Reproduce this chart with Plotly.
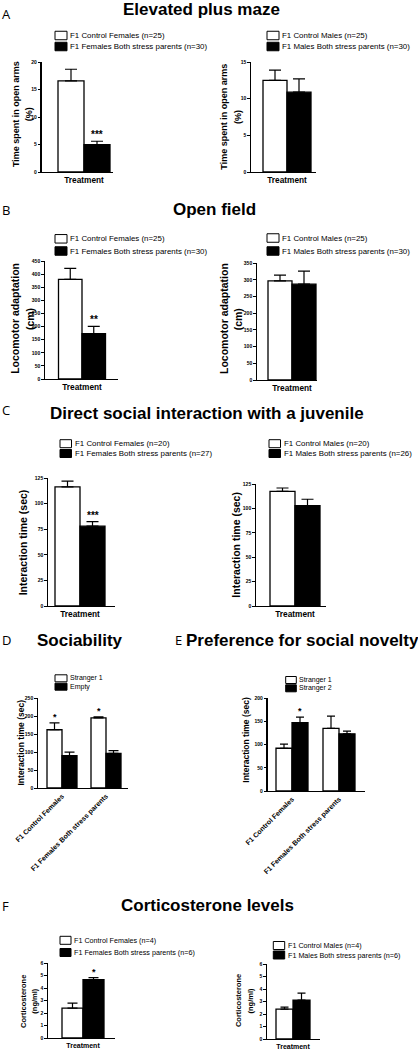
import plotly.graph_objects as go

# ---------------- data ----------------
treatment_cat = ["Treatment"]
social_cats = ["F1 Control Females", "F1 Females Both stress parents"]

epm_fem_labels = ["F1 Control Females (n=25)", "F1 Females Both stress parents (n=30)"]
epm_fem_mean = [16.6, 5.0]
epm_fem_sem = [2.1, 0.6]
epm_fem_sig = ["", "***"]

epm_male_labels = ["F1 Control Males (n=25)", "F1 Males Both stress parents (n=30)"]
epm_male_mean = [12.5, 10.9]
epm_male_sem = [1.4, 1.8]
epm_male_sig = ["", ""]

of_fem_labels = ["F1 Control Females (n=25)", "F1 Females Both stress parents (n=30)"]
of_fem_mean = [380, 173]
of_fem_sem = [42, 28]
of_fem_sig = ["", "**"]

of_male_labels = ["F1 Control Males (n=25)", "F1 Males Both stress parents (n=30)"]
of_male_mean = [297, 287]
of_male_sem = [17, 39]
of_male_sig = ["", ""]

dsi_fem_labels = ["F1 Control Females (n=20)", "F1 Females Both stress parents (n=27)"]
dsi_fem_mean = [116.5, 78]
dsi_fem_sem = [5.5, 4.5]
dsi_fem_sig = ["", "***"]

dsi_male_labels = ["F1 Control Males (n=20)", "F1 Males Both stress parents (n=26)"]
dsi_male_mean = [117.5, 103]
dsi_male_sem = [3.5, 6.5]
dsi_male_sig = ["", ""]

soc_series = ["Stranger 1", "Empty"]
soc_stranger1 = [162, 195]
soc_stranger1_sem = [19, 3]
soc_stranger1_sig = ["*", "*"]
soc_empty = [90, 96.5]
soc_empty_sem = [9.5, 7.5]
soc_empty_sig = ["", ""]

nov_series = ["Stranger 1", "Stranger 2"]
nov_stranger1 = [92, 135]
nov_stranger1_sem = [9, 26]
nov_stranger1_sig = ["", ""]
nov_stranger2 = [147, 123]
nov_stranger2_sem = [12, 6]
nov_stranger2_sig = ["*", ""]

cort_fem_labels = ["F1 Control Females (n=4)", "F1 Females Both stress parents (n=6)"]
cort_fem_mean = [2.4, 4.68]
cort_fem_sem = [0.4, 0.15]
cort_fem_sig = ["", "*"]

cort_male_labels = ["F1 Control Males (n=4)", "F1 Males Both stress parents (n=6)"]
cort_male_mean = [2.4, 3.12]
cort_male_sem = [0.15, 0.56]
cort_male_sig = ["", ""]

# ---------------- layout helpers ----------------
W, H = 418, 1050
FONT = "Liberation Sans"
LETTER_FONT = "Open Sans"
FILLS = ["#ffffff", "#000000"]


def X(px):
    return px / W


def Y(py):
    return 1 - py / H


fig = go.Figure()
layout = {}
annotations = []
shapes = []


def add_panel(i, cats, series, cfg):
    """series: list of (means, sems, sigs) - first white, second black"""
    suf = "" if i == 1 else str(i)
    xa, ya = "x" + suf, "y" + suf
    sp = cfg.get("sp", cfg["bw"])
    wu = cfg["bw"] / sp
    rng = [(cfg["x0"] - cfg["c0"]) / sp, (cfg["x1"] - cfg["c0"]) / sp]
    layout["xaxis" + suf] = dict(
        domain=[X(cfg["x0"]), X(cfg["x1"])], range=rng, type="category",
        categoryorder="array", categoryarray=cats, anchor=ya, automargin=False,
        showline=True, linecolor="black", linewidth=1.3, ticks="",
        showgrid=False, zeroline=False, fixedrange=True,
        tickangle=cfg.get("tickangle", 0),
        tickfont=dict(family=FONT, size=cfg["xfont"], color="black", weight="bold"),
    )
    layout["yaxis" + suf] = dict(
        domain=[Y(cfg["yb"]), Y(cfg["yt"])], range=[0, cfg["ymax"] * 1.001], anchor=xa,
        automargin=False,
        showline=True, linecolor="black", linewidth=1.3, ticks="outside",
        ticklen=2.5, tickwidth=1, tickcolor="black", dtick=cfg["dtick"], tick0=0,
        showgrid=False, zeroline=False, fixedrange=True,
        tickfont=dict(family=FONT, size=5, color="black", weight="bold"),
    )
    for k, (means, sems, sigs) in enumerate(series):
        off = -wu if k == 0 else 0
        fig.add_trace(go.Bar(
            x=cats, y=means, width=wu, offset=off,
            marker=dict(color=FILLS[k], line=dict(color="black", width=1.3)),
            error_y=dict(type="data", array=sems, arrayminus=[0] * len(sems),
                         symmetric=False, color="black", thickness=1.2,
                         width=cfg["cap"]),
            xaxis=xa, yaxis=ya, showlegend=False, hoverinfo="skip",
        ))
        for j, s in enumerate(sigs):
            if s:
                annotations.append(dict(
                    x=j + off + wu / 2, y=means[j] + sems[j], xref=xa, yref=ya,
                    text=s, showarrow=False, yanchor="bottom", xanchor="center",
                    yshift=-1,
                    font=dict(family=FONT, size=cfg["starsize"], color="black", weight="bold"),
                ))


def add_legend(bx0, bx1, rows, labels, bh, size):
    for k, (cy, lab) in enumerate(zip(rows, labels)):
        shapes.append(dict(type="rect", xref="paper", yref="paper",
                           x0=X(bx0), x1=X(bx1), y0=Y(cy + bh / 2), y1=Y(cy - bh / 2),
                           line=dict(color="black", width=1), fillcolor=FILLS[k]))
        annotations.append(dict(x=X(bx1 + 1), y=Y(cy), xref="paper", yref="paper",
                                text=lab, showarrow=False, xanchor="left", yanchor="middle",
                                font=dict(family=FONT, size=size, color="black")))


def text(px, py, s, size, bold=True, angle=0, family=FONT, anchor="center"):
    annotations.append(dict(x=X(px), y=Y(py), xref="paper", yref="paper", text=s,
                            showarrow=False, xanchor=anchor, yanchor="middle",
                            textangle=angle,
                            font=dict(family=family, size=size, color="black",
                                      weight="bold" if bold else "normal")))


# ---------------- panels ----------------
big = dict(cap=6, starsize=10, xfont=8.3)

add_panel(1, treatment_cat, [([epm_fem_mean[0]], [epm_fem_sem[0]], [epm_fem_sig[0]]),
                             ([epm_fem_mean[1]], [epm_fem_sem[1]], [epm_fem_sig[1]])],
          dict(x0=41.7, x1=113, c0=84, bw=26, yt=62, yb=172, ymax=20, dtick=5, **big))
add_panel(2, treatment_cat, [([epm_male_mean[0]], [epm_male_sem[0]], [epm_male_sig[0]]),
                             ([epm_male_mean[1]], [epm_male_sem[1]], [epm_male_sig[1]])],
          dict(x0=251, x1=316, c0=287, bw=24, yt=62, yb=172, ymax=15, dtick=5, **big))
add_panel(3, treatment_cat, [([of_fem_mean[0]], [of_fem_sem[0]], [of_fem_sig[0]]),
                             ([of_fem_mean[1]], [of_fem_sem[1]], [of_fem_sig[1]])],
          dict(x0=45, x1=118, c0=82, bw=23.5, yt=261, yb=379, ymax=450, dtick=50, **big))
add_panel(4, treatment_cat, [([of_male_mean[0]], [of_male_sem[0]], [of_male_sig[0]]),
                             ([of_male_mean[1]], [of_male_sem[1]], [of_male_sig[1]])],
          dict(x0=257, x1=317, c0=292, bw=24, yt=263, yb=380, ymax=350, dtick=50, **big))
add_panel(5, treatment_cat, [([dsi_fem_mean[0]], [dsi_fem_sem[0]], [dsi_fem_sig[0]]),
                             ([dsi_fem_mean[1]], [dsi_fem_sem[1]], [dsi_fem_sig[1]])],
          dict(x0=48, x1=115, c0=80, bw=25, yt=478, yb=606, ymax=125, dtick=25, **big))
add_panel(6, treatment_cat, [([dsi_male_mean[0]], [dsi_male_sem[0]], [dsi_male_sig[0]]),
                             ([dsi_male_mean[1]], [dsi_male_sem[1]], [dsi_male_sig[1]])],
          dict(x0=256, x1=326, c0=295, bw=25, yt=484, yb=606, ymax=125, dtick=25, **big))
add_panel(7, social_cats, [(soc_stranger1, soc_stranger1_sem, soc_stranger1_sig),
                           (soc_empty, soc_empty_sem, soc_empty_sig)],
          dict(x0=38, x1=128, c0=62, sp=44, bw=15, yt=698, yb=788, ymax=250, dtick=50,
               cap=5, starsize=9, xfont=7, tickangle=-45))
add_panel(8, social_cats, [(nov_stranger1, nov_stranger1_sem, nov_stranger1_sig),
                           (nov_stranger2, nov_stranger2_sem, nov_stranger2_sig)],
          dict(x0=267.7, x1=365, c0=292, sp=47, bw=16, yt=698, yb=791, ymax=200, dtick=50,
               cap=4, starsize=9, xfont=7, tickangle=-45))
add_panel(9, treatment_cat, [([cort_fem_mean[0]], [cort_fem_sem[0]], [cort_fem_sig[0]]),
                             ([cort_fem_mean[1]], [cort_fem_sem[1]], [cort_fem_sig[1]])],
          dict(x0=48, x1=115, c0=83, bw=21, yt=963, yb=1038, ymax=6, dtick=1,
               cap=5, starsize=9, xfont=7))
add_panel(10, treatment_cat, [([cort_male_mean[0]], [cort_male_sem[0]], [cort_male_sig[0]]),
                              ([cort_male_mean[1]], [cort_male_sem[1]], [cort_male_sig[1]])],
          dict(x0=267, x1=320, c0=293, bw=17, yt=964, yb=1039, ymax=6, dtick=1,
               cap=4, starsize=9, xfont=7))

# ---------------- legends ----------------
add_legend(55, 67, [35.5, 46.5], epm_fem_labels, 8.5, 7.9)
add_legend(267, 279, [35.5, 46.5], epm_male_labels, 8.5, 7.9)
add_legend(55, 67, [238.8, 251], of_fem_labels, 8.5, 7.9)
add_legend(267, 279, [238, 251], of_male_labels, 8.5, 7.9)
add_legend(60, 71.5, [443.7, 453.5], dsi_fem_labels, 8, 7.9)
add_legend(269, 280.5, [443.7, 453.5], dsi_male_labels, 8, 7.9)
add_legend(55, 67, [678.3, 686.7], soc_series, 7, 7)
add_legend(285.7, 296.3, [680, 688.3], nov_series, 7, 7)
add_legend(60, 71, [940.3, 952.5], cort_fem_labels, 8, 7.2)
add_legend(273.3, 284.7, [945.5, 955], cort_male_labels, 8, 7.2)

# ---------------- titles & letters ----------------
text(6.5, 14, "A", 13, bold=False, family=LETTER_FONT)
text(201.5, 10, "Elevated plus maze", 17)
text(6, 210, "B", 13, bold=False, family=LETTER_FONT)
text(214.5, 210, "Open field", 17)
text(6, 410, "C", 13, bold=False, family=LETTER_FONT)
text(207, 413, "Direct social interaction with a juvenile", 17)
text(6, 640, "D", 13, bold=False, family=LETTER_FONT)
text(80, 640, "Sociability", 17)
text(178, 640, "E", 13, bold=False, family=LETTER_FONT)
text(302.5, 640, "Preference for social novelty", 17)
text(5, 906, "F", 13, bold=False, family=LETTER_FONT)
text(207, 905, "Corticosterone levels", 17)

# ---------------- y-axis titles ----------------
text(16, 114, "Time spent in open arms", 9, angle=-90)
text(29.3, 114, "(%)", 9, angle=-90)
text(224, 116.7, "Time spent in open arms", 9, angle=-90)
text(237.3, 116.7, "(%)", 9, angle=-90)
text(15, 318.8, "Locomotor adaptation", 10.5, angle=-90)
text(29.3, 318.8, "(cm)", 10.5, angle=-90)
text(224, 319, "Locomotor adaptation", 10.5, angle=-90)
text(238.3, 319, "(cm)", 10.5, angle=-90)
text(23.3, 542, "Interaction time (sec)", 10.5, angle=-90)
text(235.7, 545, "Interaction time (sec)", 10.5, angle=-90)
text(20, 742.5, "Interaction time (sec)", 8.5, angle=-90)
text(245.7, 740, "Interaction time (sec)", 8.5, angle=-90)
text(23.3, 1001.7, "Corticosterone", 7.5, angle=-90)
text(35, 1001.7, "(ng/ml)", 7.5, angle=-90)
text(238.3, 1000.8, "Corticosterone", 7.5, angle=-90)
text(250.7, 1000.8, "(ng/ml)", 7.5, angle=-90)

fig.update_layout(
    width=W, height=H, margin=dict(l=0, r=0, t=0, b=0, autoexpand=False),
    paper_bgcolor="white", plot_bgcolor="rgba(0,0,0,0)",
    barmode="group", showlegend=False,
    annotations=annotations, shapes=shapes,
    font=dict(family=FONT, color="black"),
    **layout,
)

fig.write_html(
    "out.html",
    config={"displayModeBar": False, "staticPlot": True},
    post_script="document.body.style.margin='0px';"
                "document.documentElement.style.overflow='hidden';"
                "document.body.style.overflow='hidden';",
)
